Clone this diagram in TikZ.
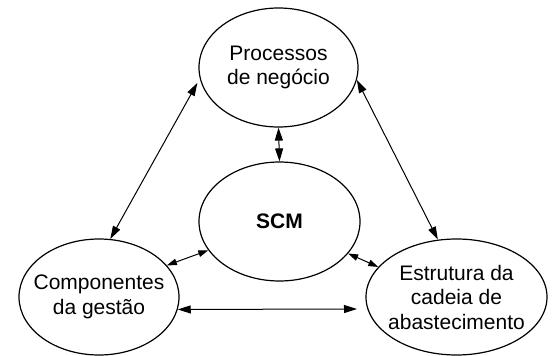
\documentclass[tikz,border=0pt]{standalone}
\usepackage{fontspec}
\setmainfont{Liberation Sans}
\usetikzlibrary{arrows.meta,shapes.geometric}
\begin{document}
\begin{tikzpicture}[x=1pt,y=-1pt,
  oval/.style={ellipse,draw,line width=1.2pt,inner sep=-20pt,align=center,font=\fontsize{21}{24.5}\selectfont},
  link/.style={line width=1pt,{Triangle[length=13pt,width=8pt]}-{Triangle[length=13pt,width=8pt]}},
  shortlink/.style={line width=1pt,{Triangle[length=10pt,width=6.5pt]}-{Triangle[length=10pt,width=6.5pt]}}]
\useasboundingbox (0,0) rectangle (552,356);
\node[oval,minimum width=159pt,minimum height=119pt] (P) at (278.5,67.5) {Processos\\de negócio};
\node[oval,minimum width=161pt,minimum height=119pt] (S) at (279.5,221.5) {\bfseries SCM};
\node[oval,minimum width=160pt,minimum height=116pt] (L) at (99,297) {Componentes\\da gestão};
\node[oval,minimum width=181pt,minimum height=116pt] (R) at (456.5,297) {Estrutura da\\cadeia de\\abastecimento};
\coordinate (hr) at (357,309);
\draw[link,shorten >=5pt] (L.79) -- (P.188);
\draw[link] (R.108) -- (P.351);
\draw[link] (P.270) -- (S.90);
\draw[shortlink] (L.25) -- (S.202);
\draw[shortlink] (S.335) -- (R.159);
\draw[link] (L.-9) -- (hr);
\end{tikzpicture}
\end{document}
